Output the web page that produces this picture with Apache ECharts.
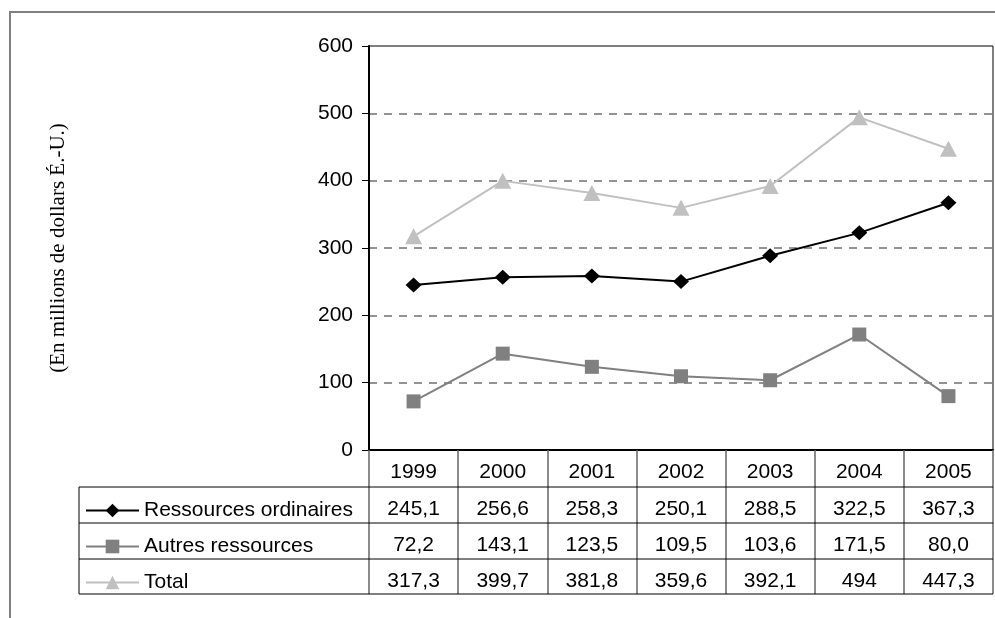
<!DOCTYPE html>
<html>
<head>
<meta charset="utf-8">
<script src="https://cdn.jsdelivr.net/npm/echarts@6/dist/echarts.min.js"></script>
<style>
  html, body { margin: 0; padding: 0; background: #fff; }
  #chart { width: 995px; height: 618px; }
</style>
</head>
<body>
<div id="chart"></div>
<script>
// Years shown along the category axis and as the header row of the data table
const years = ['1999', '2000', '2001', '2002', '2003', '2004', '2005'];

// Series values (millions of US dollars)
const ressourcesOrdinaires = [245.1, 256.6, 258.3, 250.1, 288.5, 322.5, 367.3];
const autresRessources = [72.2, 143.1, 123.5, 109.5, 103.6, 171.5, 80.0];
const total = [317.3, 399.7, 381.8, 359.6, 392.1, 494, 447.3];

const seriesNames = ['Ressources ordinaires', 'Autres ressources', 'Total'];

// Value axis range
const yMin = 0;
const yMax = 600;
const yStep = 100;

// ---- layout ----
const FONT = '"Liberation Sans", Arial, Helvetica, sans-serif';
const SERIF = '"Liberation Serif", "Times New Roman", serif';
const FS = 21;
const plot = { left: 369, right: 993, top: 46, bottom: 450 };
const rowLines = [450, 487, 523, 559, 594];   // horizontal rules of the data table
const legendLeft = 79;
const labelMargin = 12;

// French number formatting for the table cells
const frDec = v => v.toFixed(1).replace('.', ',');
const frTotal = v => Number.isInteger(v) ? String(v) : frDec(v);

const tableRow = (values, fmt, offset) => ({
  type: 'category',
  data: years,
  position: 'bottom',
  offset: offset,
  axisLine: { show: false },
  axisTick: { show: false },
  splitLine: { show: false },
  axisLabel: {
    margin: labelMargin,
    fontSize: FS,
    fontFamily: FONT,
    color: '#000',
    formatter: (v, i) => fmt(values[i])
  }
});

const chart = echarts.init(document.getElementById('chart'), null, { renderer: 'canvas' });

const hLine = (y) => ({
  type: 'line',
  shape: { x1: legendLeft, y1: y, x2: plot.right, y2: y },
  style: { stroke: '#000', lineWidth: 1 },
  z: 10
});

chart.setOption({
  animation: false,
  backgroundColor: '#fff',
  grid: {
    left: plot.left,
    right: 995 - plot.right,
    top: plot.top,
    bottom: 618 - plot.bottom,
    show: true,
    borderColor: '#000',
    borderWidth: 1,
    backgroundColor: 'transparent'
  },
  legend: {
    orient: 'vertical',
    left: 85,
    top: rowLines[1] + 13,
    padding: 0,
    itemWidth: 53,
    itemHeight: 17,
    itemGap: 15,
    selectedMode: false,
    lineStyle: { width: 2 },
    textStyle: { fontSize: FS, fontFamily: FONT, color: '#000' },
    data: seriesNames
  },
  xAxis: [
    {
      type: 'category',
      data: years,
      boundaryGap: true,
      axisLine: { lineStyle: { color: '#000', width: 2 } },
      axisTick: { show: true, length: rowLines[4] - rowLines[0], lineStyle: { color: '#666', width: 1.5 } },
      axisLabel: { margin: labelMargin, fontSize: FS, fontFamily: FONT, color: '#000' },
      splitLine: { show: false }
    },
    tableRow(ressourcesOrdinaires, frDec, rowLines[1] - rowLines[0]),
    tableRow(autresRessources, frDec, rowLines[2] - rowLines[0]),
    tableRow(total, frTotal, rowLines[3] - rowLines[0])
  ],
  yAxis: {
    type: 'value',
    min: yMin,
    max: yMax,
    interval: yStep,
    name: '(En millions de dollars É.-U.)',
    nameLocation: 'middle',
    nameGap: 300,
    nameTextStyle: { fontFamily: SERIF, fontSize: 21, color: '#000' },
    axisLine: { show: true, lineStyle: { color: '#000', width: 2 } },
    axisTick: { show: true, length: 7, lineStyle: { color: '#000', width: 1 } },
    axisLabel: { margin: 16, fontSize: FS, fontFamily: FONT, color: '#000' },
    splitLine: {
      show: true,
      showMinLine: false,
      showMaxLine: false,
      lineStyle: { color: '#707070', width: 1.5, type: [8, 7] }
    }
  },
  series: [
    {
      name: seriesNames[0],
      type: 'line',
      data: ressourcesOrdinaires,
      symbol: 'diamond',
      symbolSize: [16, 15],
      z: 5,
      lineStyle: { color: '#000', width: 2 },
      itemStyle: { color: '#000', borderWidth: 0 }
    },
    {
      name: seriesNames[1],
      type: 'line',
      data: autresRessources,
      symbol: 'rect',
      symbolSize: 14,
      z: 4,
      lineStyle: { color: '#808080', width: 2 },
      itemStyle: { color: '#808080', borderWidth: 0 }
    },
    {
      name: seriesNames[2],
      type: 'line',
      data: total,
      symbol: 'triangle',
      symbolSize: [17, 16],
      z: 3,
      lineStyle: { color: '#c0c0c0', width: 2 },
      itemStyle: { color: '#c0c0c0', borderWidth: 0 }
    }
  ],
  graphic: [
    // outer frame of the chart area
    {
      type: 'rect',
      shape: { x: 10, y: 12, width: 1100, height: 800 },
      style: { fill: 'none', stroke: '#808080', lineWidth: 2 },
      silent: true
    },
    // legend column of the data table
    {
      type: 'line',
      shape: { x1: legendLeft, y1: rowLines[1], x2: legendLeft, y2: rowLines[4] },
      style: { stroke: '#000', lineWidth: 1 },
      z: 10
    },
    hLine(rowLines[1]),
    hLine(rowLines[2]),
    hLine(rowLines[3]),
    hLine(rowLines[4])
  ]
});
</script>
</body>
</html>
